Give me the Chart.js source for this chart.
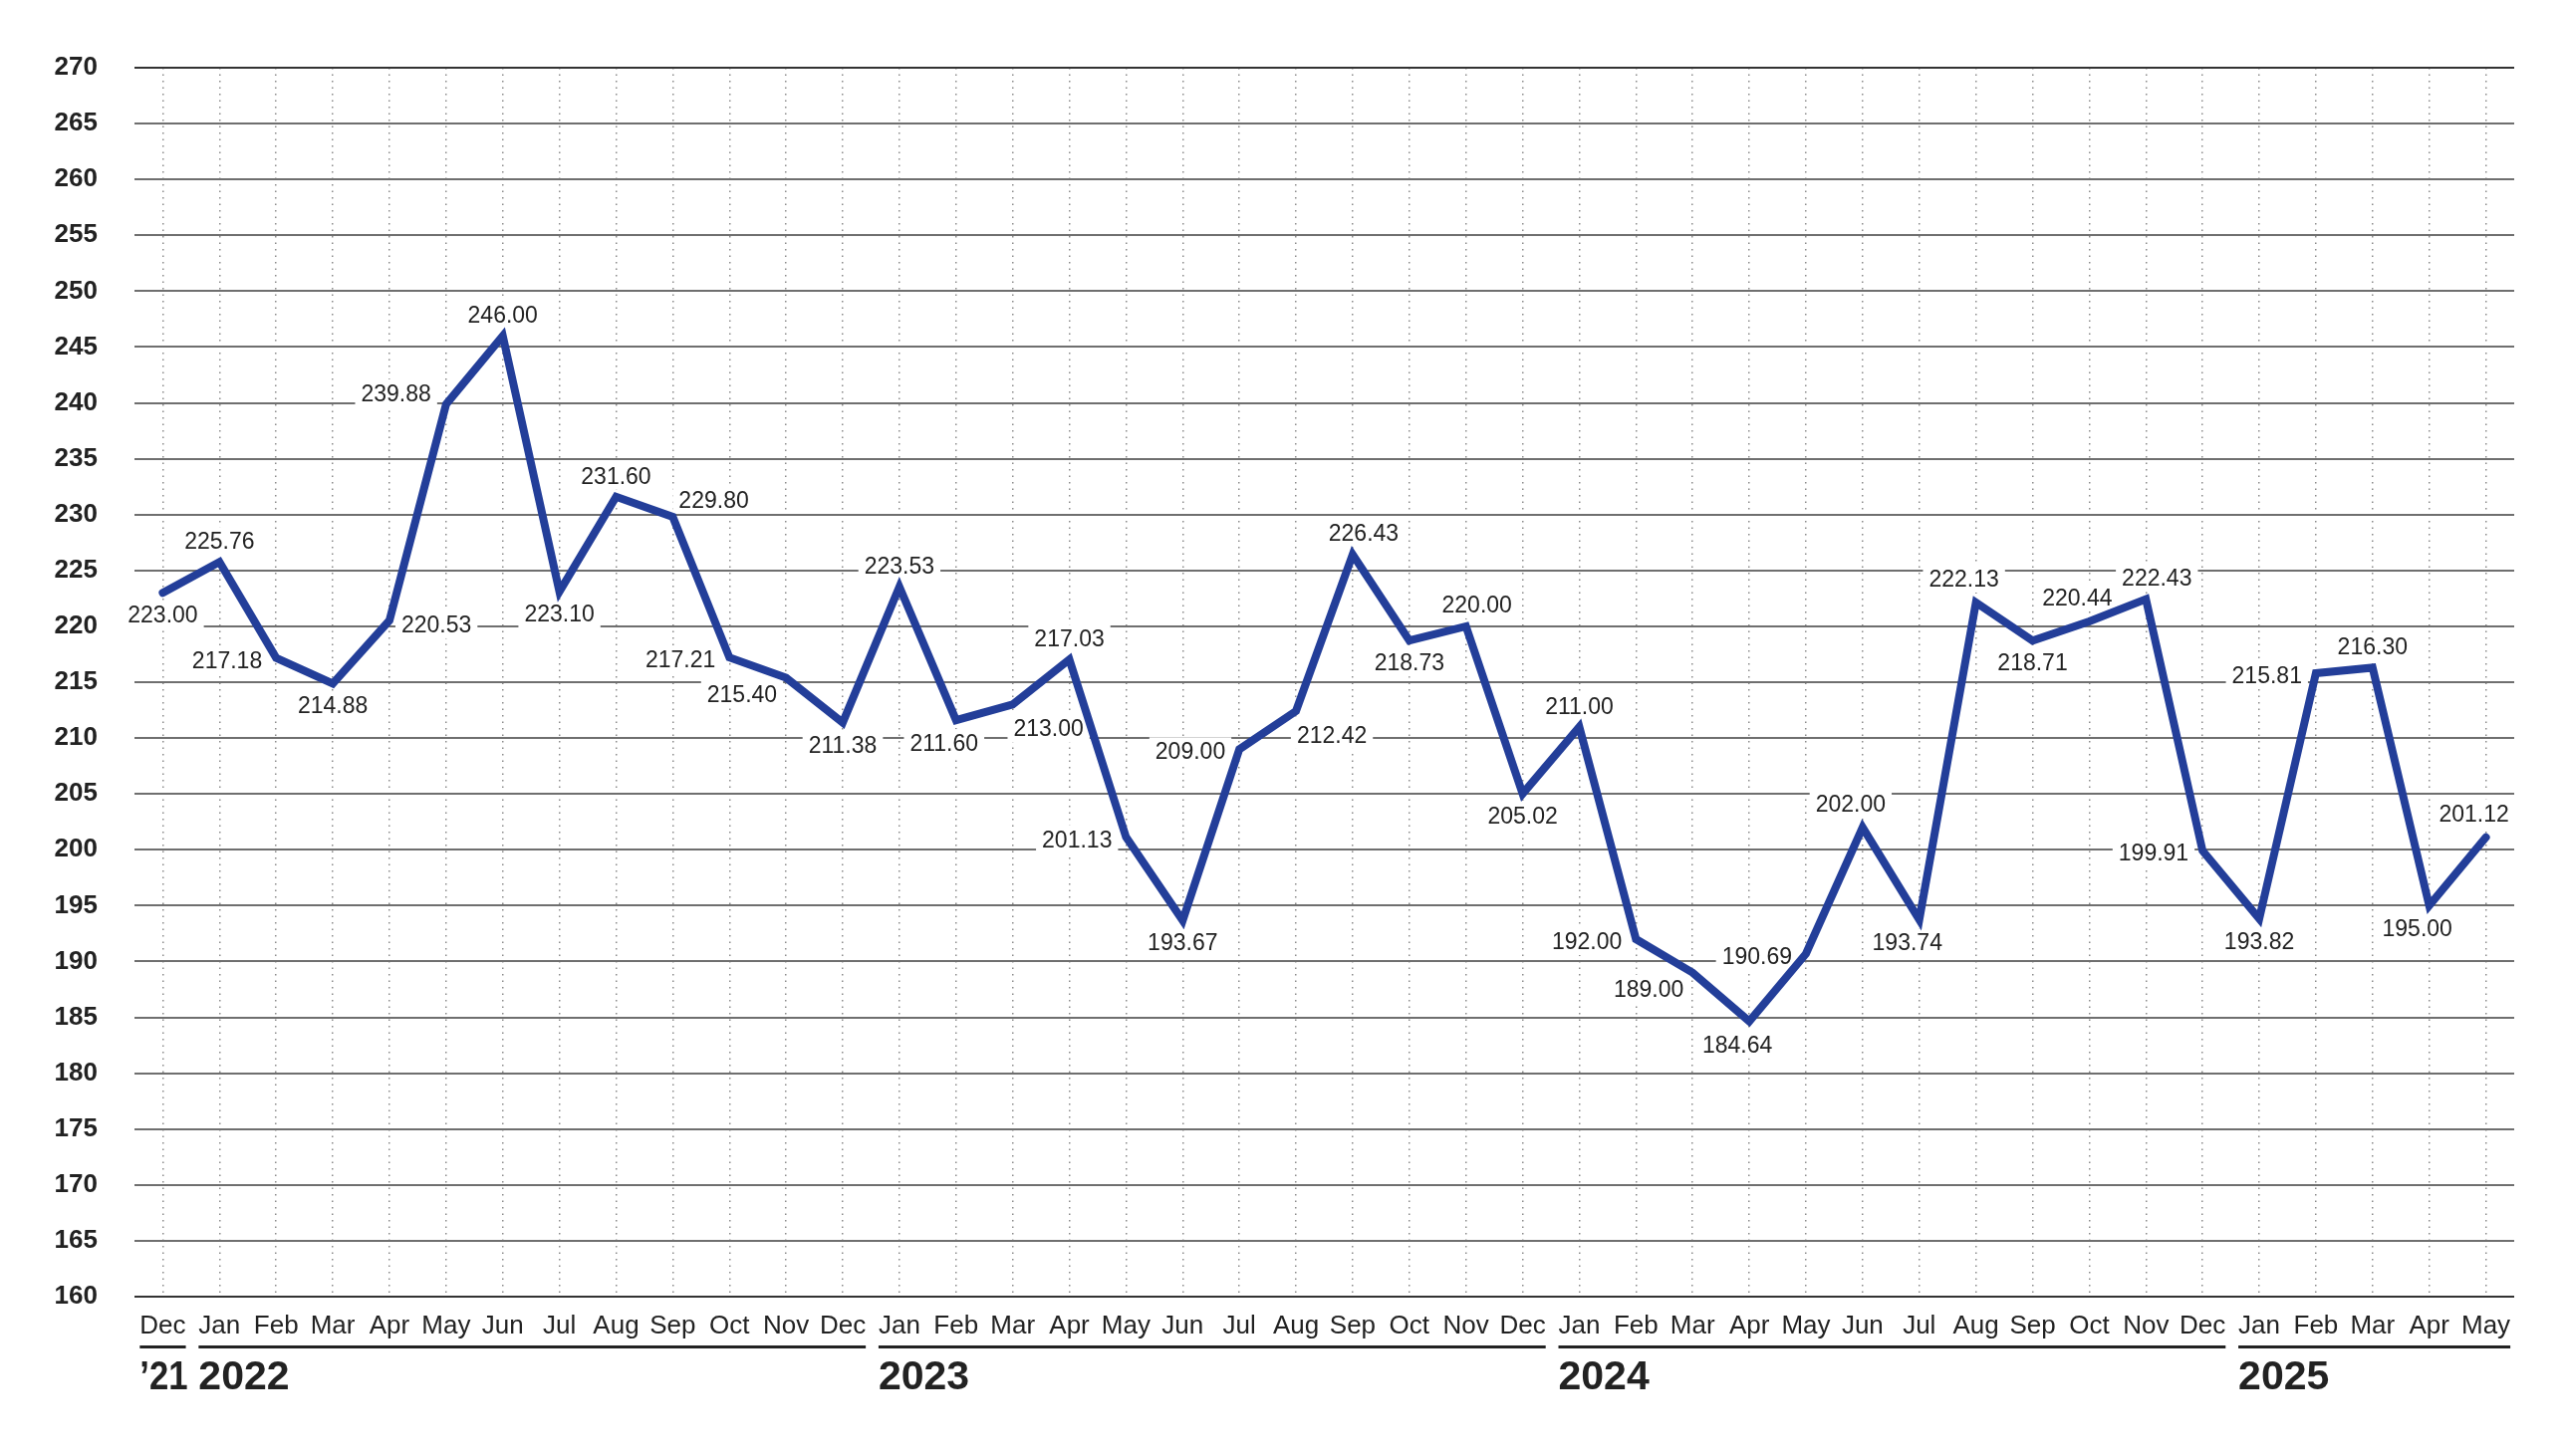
<!DOCTYPE html>
<html>
<head>
<meta charset="utf-8">
<script src="https://cdn.jsdelivr.net/npm/chart.js@4/dist/chart.umd.min.js"></script>
<style>
  html, body { margin: 0; background: #fff; }
  canvas { display: block; }
</style>
</head>
<body>
<canvas id="chart" width="2577" height="1462"></canvas>
<script>
// ── Data ─────────────────────────────────────────────────
const MONTHS = ['Dec',
  'Jan','Feb','Mar','Apr','May','Jun','Jul','Aug','Sep','Oct','Nov','Dec',
  'Jan','Feb','Mar','Apr','May','Jun','Jul','Aug','Sep','Oct','Nov','Dec',
  'Jan','Feb','Mar','Apr','May','Jun','Jul','Aug','Sep','Oct','Nov','Dec',
  'Jan','Feb','Mar','Apr','May'];

const VALUES = [223.00,
  225.76, 217.18, 214.88, 220.53, 239.88, 246.00, 223.10, 231.60, 229.80, 217.21, 215.40, 211.38,
  223.53, 211.60, 213.00, 217.03, 201.13, 193.67, 209.00, 212.42, 226.43, 218.73, 220.00, 205.02,
  211.00, 192.00, 189.00, 184.64, 190.69, 202.00, 193.74, 222.13, 218.71, 220.44, 222.43, 199.91,
  193.82, 215.81, 216.30, 195.00, 201.12];

const YEAR_LABELS = ['\u201921', '2022', '2023', '2024', '2025'];
const YEAR_START  = [0, 1, 13, 25, 37];

const Y_MIN = 160, Y_MAX = 270, Y_STEP = 5;

// where each value label sits relative to its point
const LABEL_SIDE = ['below',
  'above','left','below','right','aboveLeft','above','below','above','aboveRight','left','belowLeft','below',
  'above','belowW','belowRight','above','left','below','left','belowRight','aboveE','below','aboveE','below',
  'above','left','belowLeft','belowW','left','aboveW','belowW','aboveW','below','aboveW','aboveE','left',
  'below','left','above','belowW','aboveW'];

// ── Style ────────────────────────────────────────────────
const LINE_COLOR = '#233e99';
const INK = '#222';
const FONT = '"Liberation Sans", Arial, Helvetica, sans-serif';

const fmt = v => v.toFixed(2);

const LABEL_OFFSETS = {
  above:      (x, y, w) => [x, y - 21],
  aboveW:     (x, y, w) => [x - 12, y - 24],
  aboveE:     (x, y, w) => [x + 11, y - 22],
  below:      (x, y, w) => [x, y + 22],
  belowW:     (x, y, w) => [x - 12, y + 23],
  left:       (x, y, w) => [x - 14 - w / 2, y + 2],
  right:      (x, y, w) => [x + 12 + w / 2, y + 4],
  aboveRight: (x, y, w) => [x + 6 + w / 2, y - 17],
  aboveLeft:  (x, y, w) => [x - 15 - w / 2, y - 11],
  belowLeft:  (x, y, w) => [x - 9 - w / 2, y + 16],
  belowRight: (x, y, w) => [x + 36, y + 24],
};

// value labels on white boxes, drawn under the line
const valueLabels = {
  id: 'valueLabels',
  beforeDatasetsDraw(chart) {
    const ctx = chart.ctx;
    const meta = chart.getDatasetMeta(0);
    ctx.save();
    ctx.font = '23px ' + FONT;
    ctx.textAlign = 'center';
    ctx.textBaseline = 'alphabetic';
    meta.data.forEach((pt, i) => {
      const txt = fmt(VALUES[i]);
      const w = ctx.measureText(txt).width;
      const [cx, cy] = LABEL_OFFSETS[LABEL_SIDE[i]](pt.x, pt.y, w);
      ctx.fillStyle = '#fff';
      ctx.fillRect(cx - w / 2 - 6, cy - 14, w + 12, 28);
      ctx.fillStyle = INK;
      ctx.fillText(txt, cx, cy + 8);
    });
    ctx.restore();
  }
};

// year rows under the month ticks
const yearRow = {
  id: 'yearRow',
  afterDraw(chart) {
    const ctx = chart.ctx;
    const xs = chart.scales.x;
    const bottom = chart.chartArea.bottom;
    ctx.save();
    YEAR_LABELS.forEach((yl, i) => {
      const first = YEAR_START[i];
      const last = i + 1 < YEAR_START.length ? YEAR_START[i + 1] - 1 : MONTHS.length - 1;
      ctx.font = '26px ' + FONT;
      const x1 = xs.getPixelForValue(first) - ctx.measureText(MONTHS[first]).width / 2;
      const x2 = xs.getPixelForValue(last) + ctx.measureText(MONTHS[last]).width / 2;
      ctx.fillStyle = INK;
      ctx.fillRect(x1, bottom + 49, x2 - x1, 3);
      ctx.font = 'bold 41px ' + FONT;
      ctx.textAlign = 'left';
      ctx.textBaseline = 'alphabetic';
      ctx.fillText(yl, x1, bottom + 93, x2 - x1 + 2);
    });
    ctx.restore();
  }
};

new Chart(document.getElementById('chart').getContext('2d'), {
  type: 'line',
  data: {
    labels: MONTHS,
    datasets: [{
      data: VALUES,
      borderColor: LINE_COLOR,
      borderWidth: 8,
      borderJoinStyle: 'miter',
      borderCapStyle: 'round',
      pointRadius: 0,
      tension: 0,
      fill: false,
    }],
  },
  options: {
    responsive: false,
    animation: false,
    devicePixelRatio: 1,
    layout: { padding: { top: 68, right: 53, left: 0, bottom: 0 } },
    plugins: { legend: { display: false }, tooltip: { enabled: false } },
    scales: {
      x: {
        offset: true,
        grid: { offset: false, color: '#8a8a8a', lineWidth: 1.5, drawTicks: false },
        border: { display: false, dash: [1.5, 5] },
        ticks: { color: INK, font: { family: FONT, size: 26 }, padding: 14, maxRotation: 0, autoSkip: false },
        afterFit: s => { s.height = 160; },
      },
      y: {
        min: Y_MIN,
        max: Y_MAX,
        grid: {
          color: c => (c.tick && (c.tick.value === Y_MIN || c.tick.value === Y_MAX)) ? '#333' : '#6f6f6f',
          lineWidth: 2,
          drawTicks: false,
        },
        border: { display: false },
        ticks: { stepSize: Y_STEP, color: INK, font: { family: FONT, size: 26, weight: 'bold' }, padding: 37 },
        afterFit: s => { s.width = 135; },
      },
    },
  },
  plugins: [valueLabels, yearRow],
});
</script>
</body>
</html>
